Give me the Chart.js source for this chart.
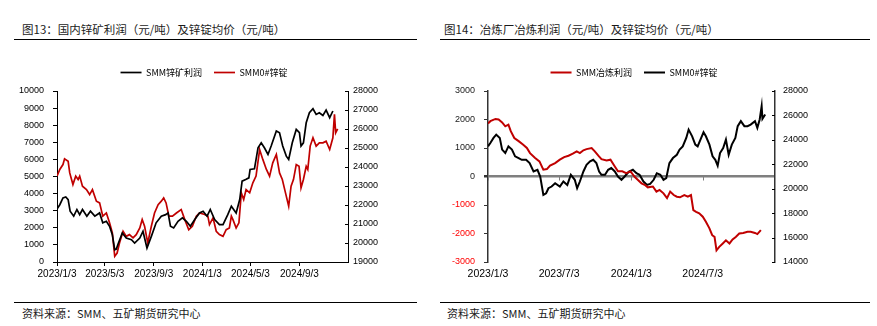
<!DOCTYPE html>
<html>
<head>
<meta charset="utf-8">
<script src="https://cdn.jsdelivr.net/npm/chart.js@4"></script>
<style>
body{margin:0;width:877px;height:326px;background:#fff;position:relative;overflow:hidden;font-family:"Noto Sans CJK SC",sans-serif;}
.title{position:absolute;top:21px;font-size:11.5px;line-height:16px;color:#1a1a1a;white-space:nowrap;}
.rule{position:absolute;height:1.5px;background:#000;}
.src{position:absolute;top:305px;font-size:11px;line-height:16px;color:#1a1a1a;white-space:nowrap;}
canvas{position:absolute;}
</style>
</head>
<body>
<div class="title" style="left:22px">图13：国内锌矿利润（元/吨）及锌锭均价（元/吨）</div>
<div class="title" style="left:444px">图14：冶炼厂冶炼利润（元/吨）及锌锭均价（元/吨）</div>
<div class="rule" style="left:14px;width:403px;top:38.5px"></div>
<div class="rule" style="left:440px;width:430px;top:38.5px"></div>
<canvas id="c1" width="408" height="232" style="left:0;top:56px"></canvas>
<canvas id="c2" width="388" height="232" style="left:440px;top:56px"></canvas>
<div class="rule" style="left:14px;width:403px;top:301.5px"></div>
<div class="rule" style="left:440px;width:430px;top:301.5px"></div>
<div class="src" style="left:22px">资料来源：SMM、五矿期货研究中心</div>
<div class="src" style="left:447px">资料来源：SMM、五矿期货研究中心</div>
<script>
// 图13 数据：SMM锌矿利润（左轴）
const mineDates = ['2023-01-03','2023-01-10','2023-01-18','2023-01-25','2023-01-31','2023-02-05','2023-02-14','2023-02-22','2023-03-01','2023-03-08','2023-03-19','2023-03-28','2023-04-08','2023-04-20','2023-04-28','2023-05-07','2023-05-15','2023-05-22','2023-05-28','2023-06-01','2023-06-05','2023-06-16','2023-06-26','2023-07-09','2023-07-17','2023-07-30','2023-08-07','2023-08-17','2023-08-28','2023-09-09','2023-09-22','2023-10-03','2023-10-09','2023-10-15','2023-10-23','2023-11-03','2023-11-14','2023-11-24','2023-12-04','2023-12-15','2023-12-27','2024-01-05','2024-01-15','2024-01-23','2024-02-03','2024-02-15','2024-02-24','2024-03-07','2024-03-16','2024-03-28','2024-04-06','2024-04-12','2024-04-21','2024-04-29','2024-05-02','2024-05-13','2024-05-22','2024-05-30','2024-06-07','2024-06-16','2024-06-24','2024-07-07','2024-07-15','2024-07-23','2024-08-01','2024-08-07','2024-08-16','2024-08-26','2024-09-03','2024-09-07','2024-09-13','2024-09-20','2024-09-28','2024-10-07','2024-10-15','2024-10-23','2024-11-01','2024-11-09','2024-11-18','2024-11-26'];
const mineProfit = [3100,3350,3750,3800,3650,2970,2680,3070,2770,3070,2680,2970,2680,2870,2290,2380,2090,1600,720,760,1020,1700,1400,1300,1110,1400,1800,820,1500,2290,2680,2770,2870,2090,1990,2380,2580,2380,2090,2480,2870,2970,2680,3070,2480,2190,2190,2770,3260,2870,3650,4730,4820,4920,5410,5450,6680,6970,6680,6290,6780,7660,7560,6780,6190,6000,6970,7750,7560,6780,6970,8140,8730,8960,8630,8730,8570,8880,8440,8830];

// 图13 数据：SMM0#锌锭（右轴）
const ingotDatesA = ['2023-01-03','2023-01-10','2023-01-18','2023-01-22','2023-01-31','2023-02-04','2023-02-12','2023-02-19','2023-02-25','2023-03-01','2023-03-08','2023-03-18','2023-03-26','2023-04-02','2023-04-12','2023-04-20','2023-04-28','2023-05-07','2023-05-15','2023-05-22','2023-05-28','2023-06-03','2023-06-09','2023-06-18','2023-06-26','2023-07-04','2023-07-13','2023-07-21','2023-07-30','2023-08-05','2023-08-11','2023-08-19','2023-08-28','2023-09-05','2023-09-14','2023-09-22','2023-09-28','2023-10-04','2023-10-11','2023-10-20','2023-10-30','2023-11-11','2023-11-20','2023-11-30','2023-12-09','2023-12-19','2023-12-27','2024-01-09','2024-01-17','2024-01-21','2024-01-30','2024-02-07','2024-02-15','2024-02-24','2024-03-03','2024-03-11','2024-03-16','2024-03-20','2024-03-28','2024-04-04','2024-04-10','2024-04-16','2024-04-22','2024-05-01','2024-05-09','2024-05-17','2024-05-26','2024-06-03','2024-06-12','2024-06-20','2024-06-28','2024-07-07','2024-07-15','2024-07-22','2024-07-30','2024-08-07','2024-08-13','2024-08-19','2024-08-26','2024-09-02','2024-09-07','2024-09-13','2024-09-20','2024-09-24','2024-09-30','2024-10-07','2024-10-15','2024-10-23','2024-11-01','2024-11-09','2024-11-18','2024-11-26','2024-11-30','2024-12-03','2024-12-08'];
const ingotPriceA = [23520,23870,24130,24430,24300,23690,23080,23520,23340,23520,22990,22810,22550,22810,22200,22110,21410,21580,21060,20530,19300,19470,20000,20620,20350,20440,20270,20440,20790,21230,20880,20000,20880,21580,22020,22200,22370,22110,21410,21410,21580,21760,21230,20700,20880,21410,21580,21500,21410,20970,21320,20620,20440,20350,20700,20790,21410,21230,20790,21060,22640,22290,22810,22640,23170,23520,24920,24400,23870,23520,24220,24660,23690,23340,22640,21940,22990,23340,24130,24040,22900,23340,24040,23870,25100,25540,25100,25270,25270,25360,24920,25540,26770,25800,26010];

// 图14 数据：SMM冶炼利润（左轴）
const smeltDates = ['2023-01-03','2023-01-09','2023-01-22','2023-01-30','2023-02-08','2023-02-16','2023-02-24','2023-03-02','2023-03-11','2023-03-22','2023-04-02','2023-04-12','2023-04-20','2023-05-03','2023-05-14','2023-05-24','2023-06-02','2023-06-10','2023-06-23','2023-07-05','2023-07-16','2023-07-27','2023-08-07','2023-08-17','2023-08-25','2023-09-03','2023-09-11','2023-09-24','2023-10-02','2023-10-11','2023-10-19','2023-11-01','2023-11-11','2023-11-22','2023-11-30','2023-12-11','2023-12-21','2024-01-01','2024-01-12','2024-01-20','2024-01-29','2024-02-06','2024-02-14','2024-02-27','2024-03-07','2024-03-15','2024-03-25','2024-04-03','2024-04-11','2024-04-20','2024-04-28','2024-05-06','2024-05-17','2024-05-26','2024-06-03','2024-06-09','2024-06-16','2024-06-24','2024-07-03','2024-07-11','2024-07-20','2024-07-27','2024-08-02','2024-08-07','2024-08-14','2024-08-23','2024-08-31','2024-09-09','2024-09-17','2024-09-25','2024-10-04','2024-10-14','2024-10-25','2024-11-02','2024-11-13','2024-11-19','2024-11-28'];
const smeltProfit = [1860,1940,2020,2000,1900,1760,1820,1590,1350,1240,1120,1000,820,650,530,240,260,380,470,590,680,730,800,880,820,920,960,1000,880,730,610,560,590,350,180,180,120,180,-20,-120,-240,-290,-380,-350,-530,-470,-590,-760,-530,-650,-710,-730,-650,-710,-650,-1180,-1240,-1290,-1410,-1590,-1820,-2060,-2120,-2590,-2470,-2350,-2240,-2350,-2210,-2120,-2000,-1980,-1940,-1940,-1980,-2020,-1880];

// 图14 数据：SMM0#锌锭（右轴）
const ingotDatesB = ['2023-01-03','2023-01-09','2023-01-17','2023-01-24','2023-02-02','2023-02-08','2023-02-16','2023-02-24','2023-03-05','2023-03-13','2023-03-22','2023-03-30','2023-04-10','2023-04-19','2023-04-29','2023-05-09','2023-05-16','2023-05-24','2023-05-31','2023-06-06','2023-06-14','2023-06-23','2023-07-05','2023-07-14','2023-07-24','2023-08-02','2023-08-12','2023-08-18','2023-08-25','2023-09-03','2023-09-11','2023-09-20','2023-09-28','2023-10-06','2023-10-13','2023-10-19','2023-10-28','2023-11-05','2023-11-13','2023-11-22','2023-11-30','2023-12-09','2023-12-17','2023-12-28','2024-01-07','2024-01-16','2024-01-24','2024-02-03','2024-02-12','2024-02-20','2024-02-29','2024-03-08','2024-03-17','2024-03-25','2024-04-01','2024-04-09','2024-04-18','2024-04-28','2024-05-05','2024-05-13','2024-05-22','2024-05-28','2024-06-06','2024-06-14','2024-06-20','2024-06-29','2024-07-05','2024-07-11','2024-07-20','2024-07-28','2024-08-04','2024-08-10','2024-08-16','2024-08-24','2024-08-31','2024-09-07','2024-09-15','2024-09-24','2024-09-30','2024-10-08','2024-10-17','2024-10-25','2024-11-02','2024-11-13','2024-11-19','2024-11-25','2024-11-30','2024-12-02','2024-12-09'];
const ingotPriceB = [23470,23740,24160,24430,24160,23200,22920,23470,23200,22650,22510,22370,22370,22100,21410,21550,21000,19490,19630,20040,20180,20450,20180,20590,20310,21140,20730,20040,20590,21410,21960,22240,22370,22100,21410,21140,21140,21550,21690,21410,21000,20730,21000,21410,21550,21270,21140,20590,20310,20400,20730,21270,21140,20730,20860,22100,22510,22780,23200,23470,24160,24840,24290,23610,23470,24160,24620,24290,23610,22650,22370,21880,22920,23330,24020,22780,23610,24160,25120,25530,25120,25120,25250,25530,24980,25670,26760,25720,26080];

// 横轴刻度
const ticks13 = ['2023/1/3', '2023/5/3', '2023/9/3', '2024/1/3', '2024/5/3', '2024/9/3'];
const ticks14 = ['2023/1/3', '2023/7/3', '2024/1/3', '2024/7/3'];

const RED = '#C00000';
const BLACK = '#000000';
const NUM_FONT = 'Liberation Sans, Arial, sans-serif';

// 日期 -> 距 2023/1/3 的天数
const base = Date.UTC(2023, 0, 3);
const dayOf = s => {
    const [y, m, d] = s.split(/[-\/]/).map(Number);
    return (Date.UTC(y, m - 1, d) - base) / 864e5;
};
const toPoints = (dates, values) => dates.map((d, i) => ({x: dayOf(d), y: values[i]}));
const xMax = dayOf('2025/1/3');

// 图例与绘图区之间多留一点空
const legendGap = {
    id: 'legendGap',
    beforeLayout(chart, args, opts) {
        const lg = chart.legend;
        if (lg && !lg.$gap) {
            const fit = lg.fit;
            lg.fit = function () { fit.call(this); this.height += opts.extra || 0; };
            lg.$gap = true;
        }
    }
};

// 右轴朝内的小刻度，以及图14零线上的横轴刻度
const innerTicks = {
    id: 'innerTicks',
    afterDatasetsDraw(chart, args, opts) {
        const ctx = chart.ctx;
        const r = chart.scales.y1;
        ctx.save();
        ctx.strokeStyle = '#000';
        ctx.lineWidth = 1;
        r.ticks.forEach(t => {
            const y = Math.round(r.getPixelForValue(t.value)) + 0.5;
            ctx.beginPath();
            ctx.moveTo(r.left, y);
            ctx.lineTo(r.left - 3, y);
            ctx.stroke();
        });
        if (opts.zeroTicks) {
            const x = chart.scales.x;
            const y0 = chart.scales.y.getPixelForValue(0);
            ctx.strokeStyle = '#7f7f7f';
            x.ticks.forEach(t => {
                const px = Math.round(x.getPixelForValue(t.value)) + 0.5;
                ctx.beginPath();
                ctx.moveTo(px, y0);
                ctx.lineTo(px, y0 + 4);
                ctx.stroke();
            });
        }
        ctx.restore();
    }
};

const xAxis = (labels, fontSize, showBorder) => ({
    type: 'linear',
    min: 0,
    max: xMax,
    afterBuildTicks: s => { s.ticks = labels.map(l => ({value: dayOf(l)})); },
    ticks: {
        autoSkip: false, maxRotation: 0, padding: 2,
        callback: (v, i) => labels[i],
        font: {family: NUM_FONT, size: fontSize}, color: '#000'
    },
    grid: {drawOnChartArea: false, tickLength: 4, color: showBorder ? '#000' : 'transparent'},
    border: {display: showBorder, color: '#000'},
    afterFit: s => { s.height = 26; }
});

const legendOpts = {
    position: 'top',
    labels: {
        usePointStyle: true, pointStyle: 'line', pointStyleWidth: 21,
        font: {family: 'Noto Sans CJK SC', size: 9}, color: '#000', padding: 12
    }
};

const plain = v => String(v);

new Chart(document.getElementById('c1'), {
    type: 'line',
    data: {
        datasets: [{
            label: 'SMM锌矿利润',
            data: toPoints(mineDates, mineProfit),
            borderColor: BLACK, backgroundColor: BLACK, borderWidth: 1.7,
            pointRadius: 0, yAxisID: 'y'
        }, {
            label: 'SMM0#锌锭',
            data: toPoints(ingotDatesA, ingotPriceA),
            borderColor: RED, backgroundColor: RED, borderWidth: 1.7,
            pointRadius: 0, yAxisID: 'y1'
        }]
    },
    options: {
        responsive: false,
        animation: false,
        plugins: {legend: legendOpts, tooltip: {enabled: false}, innerTicks: {}, legendGap: {extra: 4}},
        scales: {
            x: xAxis(ticks13, 10, true),
            y: {
                position: 'left', min: 0, max: 10000,
                ticks: {stepSize: 1000, padding: 9, callback: plain, font: {family: NUM_FONT, size: 9}, color: '#000'},
                grid: {drawOnChartArea: false, tickLength: 4, color: '#000'},
                border: {color: '#000'},
                afterFit: s => { s.width = 57; }
            },
            y1: {
                position: 'right', min: 19000, max: 28000,
                ticks: {stepSize: 1000, padding: 5, callback: plain, font: {family: NUM_FONT, size: 9}, color: '#000'},
                grid: {drawOnChartArea: false, drawTicks: false},
                border: {color: '#000'},
                afterFit: s => { s.width = 60; }
            }
        }
    },
    plugins: [innerTicks, legendGap]
});

new Chart(document.getElementById('c2'), {
    type: 'line',
    data: {
        datasets: [{
            label: 'SMM冶炼利润',
            data: toPoints(smeltDates, smeltProfit),
            borderColor: RED, backgroundColor: RED, borderWidth: 2,
            pointRadius: 0, yAxisID: 'y'
        }, {
            label: 'SMM0#锌锭',
            data: toPoints(ingotDatesB, ingotPriceB),
            borderColor: BLACK, backgroundColor: BLACK, borderWidth: 2,
            pointRadius: 0, yAxisID: 'y1'
        }]
    },
    options: {
        responsive: false,
        animation: false,
        plugins: {legend: legendOpts, tooltip: {enabled: false}, innerTicks: {zeroTicks: true}, legendGap: {extra: 4}},
        scales: {
            x: xAxis(ticks14, 10.5, false),
            y: {
                position: 'left', min: -3000, max: 3000,
                ticks: {
                    stepSize: 1000, padding: 9, callback: plain, font: {family: NUM_FONT, size: 9},
                    color: c => (c.tick && c.tick.value < 0 ? '#FF0000' : '#1a1a1a')
                },
                grid: {
                    drawOnChartArea: true, tickLength: 4, tickColor: '#333',
                    color: c => (c.tick && c.tick.value === 0 ? '#7f7f7f' : 'transparent'),
                    lineWidth: c => (c.tick && c.tick.value === 0 ? 2.5 : 1)
                },
                border: {color: '#333', width: 1.5},
                afterFit: s => { s.width = 48; }
            },
            y1: {
                position: 'right', min: 14000, max: 28000,
                ticks: {stepSize: 2000, padding: 8, callback: plain, font: {family: NUM_FONT, size: 9}, color: '#000'},
                grid: {drawOnChartArea: false, drawTicks: false},
                border: {color: '#333', width: 1.5},
                afterFit: s => { s.width = 53; }
            }
        }
    },
    plugins: [innerTicks, legendGap]
});
</script>
</body>
</html>
